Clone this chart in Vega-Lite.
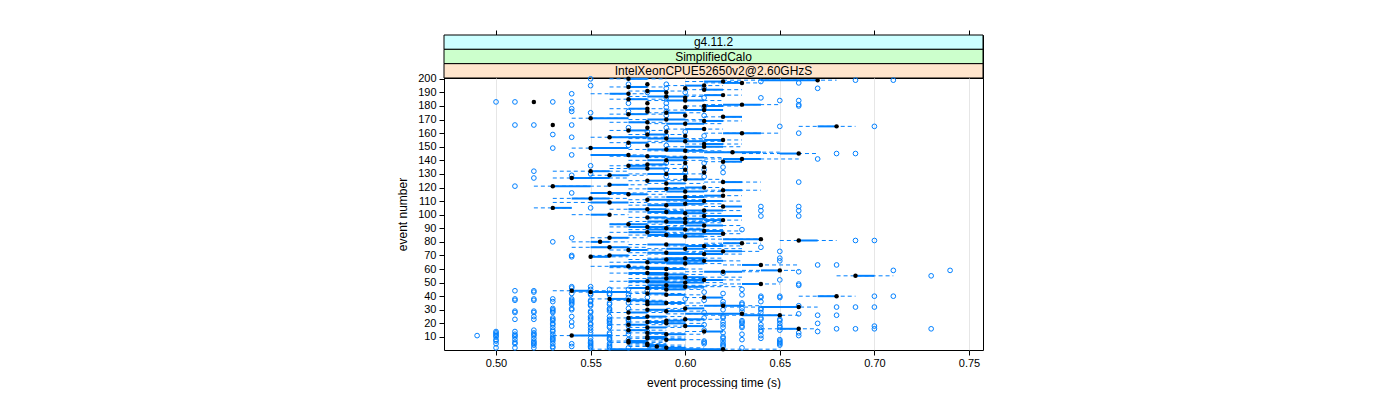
{
"$schema": "https://vega.github.io/schema/vega-lite/v6.json",
"padding": {"left": 396, "top": 29, "right": 0, "bottom": 0},
"background": "white",
"spacing": 0,
"bounds": "flush",
"config": {"font": "Liberation Sans", "view": {"stroke": "black", "strokeWidth": 1}, "axis": {"labelOverlap": false, "labelFlush": false}, "axisY": {"labelOverlap": false}},
"datasets": {
"strips": [{"label": "g4.11.2"}, {"label": "SimplifiedCalo"}, {"label": "IntelXeonCPUE52650v2@2.60GHzS"}],
"ev": [
{"e":1,"lo":0.55,"q1":0.56,"m":0.62,"q3":0.62,"hi":0.65},
{"e":2,"lo":0.58,"q1":0.59,"m":0.59,"q3":0.60,"hi":0.61},
{"e":3,"lo":0.57,"q1":0.58,"m":0.585,"q3":0.59,"hi":0.60},
{"e":4,"lo":0.57,"q1":0.58,"m":0.58,"q3":0.59,"hi":0.60},
{"e":5,"lo":0.57,"q1":0.58,"m":0.58,"q3":0.58,"hi":0.59},
{"e":6,"lo":0.56,"q1":0.57,"m":0.57,"q3":0.58,"hi":0.59},
{"e":7,"lo":0.56,"q1":0.57,"m":0.57,"q3":0.58,"hi":0.59},
{"e":8,"lo":0.58,"q1":0.59,"m":0.59,"q3":0.60,"hi":0.61},
{"e":9,"lo":0.57,"q1":0.58,"m":0.58,"q3":0.59,"hi":0.60},
{"e":10,"lo":0.57,"q1":0.58,"m":0.58,"q3":0.59,"hi":0.60},
{"e":11,"lo":0.53,"q1":0.54,"m":0.54,"q3":0.56,"hi":0.57},
{"e":12,"lo":0.58,"q1":0.59,"m":0.59,"q3":0.60,"hi":0.61},
{"e":13,"lo":0.57,"q1":0.58,"m":0.58,"q3":0.59,"hi":0.60},
{"e":14,"lo":0.60,"q1":0.61,"m":0.61,"q3":0.62,"hi":0.62},
{"e":15,"lo":0.56,"q1":0.57,"m":0.57,"q3":0.58,"hi":0.59},
{"e":16,"lo":0.64,"q1":0.65,"m":0.66,"q3":0.66,"hi":0.67},
{"e":17,"lo":0.57,"q1":0.58,"m":0.58,"q3":0.59,"hi":0.60},
{"e":18,"lo":0.59,"q1":0.60,"m":0.60,"q3":0.61,"hi":0.61},
{"e":19,"lo":0.56,"q1":0.57,"m":0.57,"q3":0.58,"hi":0.59},
{"e":20,"lo":0.58,"q1":0.59,"m":0.59,"q3":0.60,"hi":0.61},
{"e":21,"lo":0.57,"q1":0.58,"m":0.58,"q3":0.59,"hi":0.60},
{"e":22,"lo":0.58,"q1":0.59,"m":0.59,"q3":0.60,"hi":0.61},
{"e":23,"lo":0.59,"q1":0.60,"m":0.60,"q3":0.61,"hi":0.62},
{"e":24,"lo":0.56,"q1":0.57,"m":0.57,"q3":0.58,"hi":0.59},
{"e":25,"lo":0.57,"q1":0.58,"m":0.58,"q3":0.59,"hi":0.60},
{"e":26,"lo":0.61,"q1":0.63,"m":0.65,"q3":0.65,"hi":0.66},
{"e":27,"lo":0.59,"q1":0.60,"m":0.63,"q3":0.63,"hi":0.64},
{"e":28,"lo":0.56,"q1":0.57,"m":0.57,"q3":0.58,"hi":0.59},
{"e":29,"lo":0.58,"q1":0.59,"m":0.59,"q3":0.60,"hi":0.61},
{"e":30,"lo":0.57,"q1":0.58,"m":0.58,"q3":0.59,"hi":0.60},
{"e":31,"lo":0.59,"q1":0.60,"m":0.60,"q3":0.61,"hi":0.61},
{"e":32,"lo":0.62,"q1":0.64,"m":0.66,"q3":0.66,"hi":0.67},
{"e":33,"lo":0.60,"q1":0.61,"m":0.62,"q3":0.63,"hi":0.64},
{"e":34,"lo":0.57,"q1":0.58,"m":0.58,"q3":0.59,"hi":0.60},
{"e":35,"lo":0.58,"q1":0.59,"m":0.59,"q3":0.60,"hi":0.61},
{"e":36,"lo":0.57,"q1":0.58,"m":0.58,"q3":0.59,"hi":0.60},
{"e":37,"lo":0.56,"q1":0.57,"m":0.57,"q3":0.58,"hi":0.59},
{"e":38,"lo":0.55,"q1":0.56,"m":0.56,"q3":0.57,"hi":0.58},
{"e":39,"lo":0.60,"q1":0.61,"m":0.61,"q3":0.62,"hi":0.62},
{"e":40,"lo":0.66,"q1":0.67,"m":0.68,"q3":0.68,"hi":0.69},
{"e":41,"lo":0.58,"q1":0.59,"m":0.59,"q3":0.60,"hi":0.61},
{"e":42,"lo":0.57,"q1":0.58,"m":0.58,"q3":0.59,"hi":0.60},
{"e":43,"lo":0.54,"q1":0.55,"m":0.55,"q3":0.57,"hi":0.58},
{"e":44,"lo":0.53,"q1":0.54,"m":0.54,"q3":0.55,"hi":0.56},
{"e":45,"lo":0.58,"q1":0.59,"m":0.59,"q3":0.60,"hi":0.61},
{"e":46,"lo":0.56,"q1":0.57,"m":0.58,"q3":0.59,"hi":0.61},
{"e":47,"lo":0.58,"q1":0.59,"m":0.60,"q3":0.61,"hi":0.63},
{"e":48,"lo":0.57,"q1":0.58,"m":0.59,"q3":0.60,"hi":0.62},
{"e":49,"lo":0.62,"q1":0.63,"m":0.64,"q3":0.64,"hi":0.65},
{"e":50,"lo":0.57,"q1":0.58,"m":0.60,"q3":0.61,"hi":0.62},
{"e":51,"lo":0.56,"q1":0.57,"m":0.58,"q3":0.59,"hi":0.61},
{"e":52,"lo":0.59,"q1":0.60,"m":0.61,"q3":0.62,"hi":0.63},
{"e":53,"lo":0.57,"q1":0.58,"m":0.59,"q3":0.60,"hi":0.61},
{"e":54,"lo":0.58,"q1":0.59,"m":0.60,"q3":0.61,"hi":0.63},
{"e":55,"lo":0.68,"q1":0.69,"m":0.69,"q3":0.70,"hi":0.71},
{"e":56,"lo":0.57,"q1":0.58,"m":0.59,"q3":0.60,"hi":0.61},
{"e":57,"lo":0.56,"q1":0.57,"m":0.58,"q3":0.59,"hi":0.60},
{"e":58,"lo":0.60,"q1":0.61,"m":0.62,"q3":0.63,"hi":0.64},
{"e":59,"lo":0.63,"q1":0.64,"m":0.65,"q3":0.65,"hi":0.66},
{"e":60,"lo":0.57,"q1":0.58,"m":0.59,"q3":0.60,"hi":0.61},
{"e":61,"lo":0.56,"q1":0.57,"m":0.58,"q3":0.59,"hi":0.60},
{"e":62,"lo":0.55,"q1":0.56,"m":0.57,"q3":0.57,"hi":0.58},
{"e":63,"lo":0.62,"q1":0.63,"m":0.64,"q3":0.64,"hi":0.66},
{"e":64,"lo":0.58,"q1":0.59,"m":0.60,"q3":0.61,"hi":0.62},
{"e":65,"lo":0.56,"q1":0.57,"m":0.58,"q3":0.60,"hi":0.61},
{"e":66,"lo":0.59,"q1":0.60,"m":0.61,"q3":0.62,"hi":0.63},
{"e":67,"lo":0.57,"q1":0.58,"m":0.59,"q3":0.60,"hi":0.61},
{"e":68,"lo":0.58,"q1":0.59,"m":0.60,"q3":0.61,"hi":0.62},
{"e":69,"lo":0.55,"q1":0.55,"m":0.55,"q3":0.56,"hi":0.57},
{"e":70,"lo":0.55,"q1":0.56,"m":0.56,"q3":0.57,"hi":0.58},
{"e":71,"lo":0.58,"q1":0.59,"m":0.61,"q3":0.62,"hi":0.63},
{"e":72,"lo":0.57,"q1":0.58,"m":0.59,"q3":0.60,"hi":0.61},
{"e":73,"lo":0.60,"q1":0.61,"m":0.62,"q3":0.63,"hi":0.64},
{"e":74,"lo":0.56,"q1":0.57,"m":0.57,"q3":0.58,"hi":0.59},
{"e":75,"lo":0.58,"q1":0.59,"m":0.60,"q3":0.61,"hi":0.63},
{"e":76,"lo":0.54,"q1":0.55,"m":0.56,"q3":0.57,"hi":0.58},
{"e":77,"lo":0.59,"q1":0.60,"m":0.61,"q3":0.62,"hi":0.63},
{"e":78,"lo":0.57,"q1":0.58,"m":0.59,"q3":0.60,"hi":0.62},
{"e":79,"lo":0.61,"q1":0.62,"m":0.63,"q3":0.63,"hi":0.64},
{"e":80,"lo":0.54,"q1":0.55,"m":0.555,"q3":0.56,"hi":0.57},
{"e":81,"lo":0.65,"q1":0.66,"m":0.66,"q3":0.67,"hi":0.68},
{"e":82,"lo":0.61,"q1":0.62,"m":0.64,"q3":0.64,"hi":0.64},
{"e":83,"lo":0.55,"q1":0.56,"m":0.56,"q3":0.57,"hi":0.58},
{"e":84,"lo":0.58,"q1":0.59,"m":0.60,"q3":0.61,"hi":0.62},
{"e":85,"lo":0.57,"q1":0.58,"m":0.59,"q3":0.60,"hi":0.61},
{"e":86,"lo":0.59,"q1":0.60,"m":0.62,"q3":0.62,"hi":0.63},
{"e":87,"lo":0.56,"q1":0.57,"m":0.58,"q3":0.59,"hi":0.60},
{"e":88,"lo":0.60,"q1":0.61,"m":0.61,"q3":0.62,"hi":0.63},
{"e":89,"lo":0.57,"q1":0.58,"m":0.60,"q3":0.61,"hi":0.62},
{"e":90,"lo":0.58,"q1":0.59,"m":0.59,"q3":0.60,"hi":0.61},
{"e":91,"lo":0.56,"q1":0.57,"m":0.58,"q3":0.59,"hi":0.60},
{"e":92,"lo":0.59,"q1":0.60,"m":0.61,"q3":0.62,"hi":0.63},
{"e":93,"lo":0.56,"q1":0.56,"m":0.57,"q3":0.58,"hi":0.59},
{"e":94,"lo":0.58,"q1":0.59,"m":0.60,"q3":0.61,"hi":0.62},
{"e":95,"lo":0.57,"q1":0.58,"m":0.59,"q3":0.60,"hi":0.62},
{"e":96,"lo":0.60,"q1":0.61,"m":0.62,"q3":0.62,"hi":0.63},
{"e":97,"lo":0.58,"q1":0.59,"m":0.60,"q3":0.61,"hi":0.62},
{"e":98,"lo":0.57,"q1":0.58,"m":0.58,"q3":0.59,"hi":0.60},
{"e":99,"lo":0.60,"q1":0.61,"m":0.61,"q3":0.63,"hi":0.63},
{"e":100,"lo":0.54,"q1":0.55,"m":0.56,"q3":0.56,"hi":0.57},
{"e":101,"lo":0.58,"q1":0.59,"m":0.60,"q3":0.61,"hi":0.62},
{"e":102,"lo":0.57,"q1":0.58,"m":0.59,"q3":0.60,"hi":0.61},
{"e":103,"lo":0.59,"q1":0.60,"m":0.61,"q3":0.62,"hi":0.63},
{"e":104,"lo":0.56,"q1":0.57,"m":0.58,"q3":0.59,"hi":0.60},
{"e":105,"lo":0.52,"q1":0.53,"m":0.53,"q3":0.54,"hi":0.54},
{"e":106,"lo":0.61,"q1":0.62,"m":0.62,"q3":0.63,"hi":0.63},
{"e":107,"lo":0.57,"q1":0.58,"m":0.59,"q3":0.60,"hi":0.61},
{"e":108,"lo":0.58,"q1":0.59,"m":0.60,"q3":0.61,"hi":0.62},
{"e":109,"lo":0.53,"q1":0.55,"m":0.56,"q3":0.57,"hi":0.58},
{"e":110,"lo":0.59,"q1":0.60,"m":0.61,"q3":0.62,"hi":0.63},
{"e":111,"lo":0.57,"q1":0.58,"m":0.58,"q3":0.60,"hi":0.61},
{"e":112,"lo":0.53,"q1":0.54,"m":0.55,"q3":0.56,"hi":0.57},
{"e":113,"lo":0.58,"q1":0.59,"m":0.60,"q3":0.61,"hi":0.62},
{"e":114,"lo":0.60,"q1":0.61,"m":0.62,"q3":0.62,"hi":0.63},
{"e":115,"lo":0.56,"q1":0.57,"m":0.57,"q3":0.58,"hi":0.59},
{"e":116,"lo":0.55,"q1":0.55,"m":0.56,"q3":0.57,"hi":0.58},
{"e":117,"lo":0.58,"q1":0.59,"m":0.60,"q3":0.61,"hi":0.62},
{"e":118,"lo":0.61,"q1":0.62,"m":0.62,"q3":0.63,"hi":0.64},
{"e":119,"lo":0.57,"q1":0.58,"m":0.59,"q3":0.60,"hi":0.61},
{"e":120,"lo":0.59,"q1":0.60,"m":0.61,"q3":0.61,"hi":0.62},
{"e":121,"lo":0.52,"q1":0.53,"m":0.53,"q3":0.55,"hi":0.56},
{"e":122,"lo":0.56,"q1":0.56,"m":0.56,"q3":0.57,"hi":0.58},
{"e":123,"lo":0.58,"q1":0.59,"m":0.59,"q3":0.60,"hi":0.61},
{"e":124,"lo":0.61,"q1":0.62,"m":0.62,"q3":0.63,"hi":0.64},
{"e":125,"lo":0.57,"q1":0.58,"m":0.58,"q3":0.59,"hi":0.60},
{"e":126,"lo":0.59,"q1":0.60,"m":0.60,"q3":0.61,"hi":0.62},
{"e":127,"lo":0.53,"q1":0.54,"m":0.54,"q3":0.56,"hi":0.57},
{"e":128,"lo":0.60,"q1":0.60,"m":0.60,"q3":0.60,"hi":0.60},
{"e":129,"lo":0.55,"q1":0.56,"m":0.56,"q3":0.57,"hi":0.58},
{"e":130,"lo":0.57,"q1":0.58,"m":0.59,"q3":0.60,"hi":0.61},
{"e":131,"lo":0.61,"q1":0.61,"m":0.61,"q3":0.61,"hi":0.61},
{"e":132,"lo":0.53,"q1":0.55,"m":0.55,"q3":0.56,"hi":0.57},
{"e":133,"lo":0.60,"q1":0.60,"m":0.60,"q3":0.60,"hi":0.60},
{"e":134,"lo":0.56,"q1":0.57,"m":0.58,"q3":0.59,"hi":0.60},
{"e":135,"lo":0.61,"q1":0.61,"m":0.61,"q3":0.61,"hi":0.61},
{"e":136,"lo":0.56,"q1":0.57,"m":0.57,"q3":0.58,"hi":0.59},
{"e":137,"lo":0.57,"q1":0.58,"m":0.58,"q3":0.59,"hi":0.60},
{"e":138,"lo":0.60,"q1":0.60,"m":0.60,"q3":0.60,"hi":0.60},
{"e":139,"lo":0.61,"q1":0.62,"m":0.62,"q3":0.63,"hi":0.63},
{"e":140,"lo":0.57,"q1":0.58,"m":0.59,"q3":0.60,"hi":0.61},
{"e":141,"lo":0.61,"q1":0.62,"m":0.63,"q3":0.64,"hi":0.66},
{"e":142,"lo":0.58,"q1":0.59,"m":0.60,"q3":0.61,"hi":0.62},
{"e":143,"lo":0.56,"q1":0.57,"m":0.58,"q3":0.59,"hi":0.60},
{"e":144,"lo":0.55,"q1":0.55,"m":0.57,"q3":0.57,"hi":0.58},
{"e":145,"lo":0.63,"q1":0.65,"m":0.66,"q3":0.66,"hi":0.67},
{"e":146,"lo":0.60,"q1":0.61,"m":0.625,"q3":0.64,"hi":0.65},
{"e":147,"lo":0.58,"q1":0.59,"m":0.60,"q3":0.61,"hi":0.62},
{"e":148,"lo":0.57,"q1":0.58,"m":0.59,"q3":0.60,"hi":0.61},
{"e":149,"lo":0.54,"q1":0.55,"m":0.55,"q3":0.57,"hi":0.57},
{"e":150,"lo":0.59,"q1":0.60,"m":0.61,"q3":0.62,"hi":0.63},
{"e":151,"lo":0.58,"q1":0.58,"m":0.58,"q3":0.58,"hi":0.58},
{"e":152,"lo":0.60,"q1":0.61,"m":0.61,"q3":0.62,"hi":0.63},
{"e":153,"lo":0.56,"q1":0.57,"m":0.57,"q3":0.58,"hi":0.59},
{"e":154,"lo":0.58,"q1":0.59,"m":0.60,"q3":0.61,"hi":0.62},
{"e":155,"lo":0.60,"q1":0.61,"m":0.62,"q3":0.62,"hi":0.63},
{"e":156,"lo":0.57,"q1":0.58,"m":0.59,"q3":0.60,"hi":0.61},
{"e":157,"lo":0.55,"q1":0.56,"m":0.56,"q3":0.58,"hi":0.59},
{"e":158,"lo":0.60,"q1":0.60,"m":0.60,"q3":0.60,"hi":0.60},
{"e":159,"lo":0.57,"q1":0.58,"m":0.58,"q3":0.59,"hi":0.60},
{"e":160,"lo":0.61,"q1":0.62,"m":0.63,"q3":0.64,"hi":0.65},
{"e":161,"lo":0.59,"q1":0.59,"m":0.59,"q3":0.59,"hi":0.59},
{"e":162,"lo":0.56,"q1":0.57,"m":0.57,"q3":0.58,"hi":0.59},
{"e":163,"lo":0.59,"q1":0.60,"m":0.61,"q3":0.61,"hi":0.62},
{"e":164,"lo":0.58,"q1":0.58,"m":0.58,"q3":0.58,"hi":0.58},
{"e":165,"lo":0.66,"q1":0.67,"m":0.68,"q3":0.68,"hi":0.69},
{"e":166,"lo":0.53,"q1":0.53,"m":0.53,"q3":0.53,"hi":0.53},
{"e":167,"lo":0.58,"q1":0.59,"m":0.60,"q3":0.61,"hi":0.62},
{"e":168,"lo":0.56,"q1":0.57,"m":0.58,"q3":0.58,"hi":0.59},
{"e":169,"lo":0.60,"q1":0.61,"m":0.61,"q3":0.62,"hi":0.63},
{"e":170,"lo":0.57,"q1":0.58,"m":0.59,"q3":0.60,"hi":0.61},
{"e":171,"lo":0.54,"q1":0.55,"m":0.55,"q3":0.57,"hi":0.57},
{"e":172,"lo":0.61,"q1":0.62,"m":0.62,"q3":0.63,"hi":0.63},
{"e":173,"lo":0.60,"q1":0.60,"m":0.60,"q3":0.60,"hi":0.60},
{"e":174,"lo":0.56,"q1":0.57,"m":0.57,"q3":0.58,"hi":0.59},
{"e":175,"lo":0.58,"q1":0.59,"m":0.59,"q3":0.60,"hi":0.61},
{"e":176,"lo":0.58,"q1":0.58,"m":0.58,"q3":0.58,"hi":0.58},
{"e":177,"lo":0.59,"q1":0.60,"m":0.61,"q3":0.62,"hi":0.62},
{"e":178,"lo":0.56,"q1":0.57,"m":0.58,"q3":0.58,"hi":0.59},
{"e":179,"lo":0.60,"q1":0.60,"m":0.60,"q3":0.60,"hi":0.60},
{"e":180,"lo":0.60,"q1":0.61,"m":0.61,"q3":0.62,"hi":0.63},
{"e":181,"lo":0.61,"q1":0.62,"m":0.63,"q3":0.64,"hi":0.65},
{"e":182,"lo":0.58,"q1":0.58,"m":0.58,"q3":0.58,"hi":0.58},
{"e":183,"lo":0.52,"q1":0.52,"m":0.52,"q3":0.52,"hi":0.52},
{"e":184,"lo":0.58,"q1":0.59,"m":0.60,"q3":0.61,"hi":0.62},
{"e":185,"lo":0.56,"q1":0.57,"m":0.57,"q3":0.58,"hi":0.59},
{"e":186,"lo":0.60,"q1":0.60,"m":0.60,"q3":0.60,"hi":0.60},
{"e":187,"lo":0.57,"q1":0.58,"m":0.59,"q3":0.60,"hi":0.61},
{"e":188,"lo":0.60,"q1":0.61,"m":0.62,"q3":0.62,"hi":0.63},
{"e":189,"lo":0.55,"q1":0.56,"m":0.57,"q3":0.57,"hi":0.58},
{"e":190,"lo":0.59,"q1":0.59,"m":0.59,"q3":0.59,"hi":0.59},
{"e":191,"lo":0.57,"q1":0.58,"m":0.58,"q3":0.59,"hi":0.60},
{"e":192,"lo":0.60,"q1":0.61,"m":0.61,"q3":0.62,"hi":0.63},
{"e":193,"lo":0.60,"q1":0.60,"m":0.60,"q3":0.60,"hi":0.60},
{"e":194,"lo":0.56,"q1":0.57,"m":0.57,"q3":0.58,"hi":0.59},
{"e":195,"lo":0.59,"q1":0.60,"m":0.61,"q3":0.61,"hi":0.62},
{"e":196,"lo":0.58,"q1":0.58,"m":0.58,"q3":0.58,"hi":0.58},
{"e":197,"lo":0.61,"q1":0.62,"m":0.63,"q3":0.63,"hi":0.64},
{"e":198,"lo":0.60,"q1":0.61,"m":0.62,"q3":0.62,"hi":0.63},
{"e":199,"lo":0.62,"q1":0.64,"m":0.67,"q3":0.67,"hi":0.68},
{"e":200,"lo":0.56,"q1":0.57,"m":0.57,"q3":0.58,"hi":0.59}
],
"out": [
{"e":2,"v":0.50},{"e":2,"v":0.51},{"e":2,"v":0.52},{"e":2,"v":0.53},{"e":2,"v":0.55},{"e":2,"v":0.56},{"e":2,"v":0.57},{"e":2,"v":0.63},
{"e":3,"v":0.53},{"e":3,"v":0.54},{"e":3,"v":0.55},{"e":3,"v":0.56},{"e":3,"v":0.62},
{"e":4,"v":0.52},{"e":4,"v":0.55},{"e":4,"v":0.56},{"e":4,"v":0.62},{"e":4,"v":0.65},
{"e":5,"v":0.50},{"e":5,"v":0.51},{"e":5,"v":0.52},{"e":5,"v":0.53},{"e":5,"v":0.54},{"e":5,"v":0.55},{"e":5,"v":0.56},{"e":5,"v":0.61},{"e":5,"v":0.62},{"e":5,"v":0.65},
{"e":6,"v":0.51},{"e":6,"v":0.52},{"e":6,"v":0.55},{"e":6,"v":0.61},{"e":6,"v":0.65},
{"e":7,"v":0.50},{"e":7,"v":0.52},{"e":7,"v":0.53},{"e":7,"v":0.55},{"e":7,"v":0.61},{"e":7,"v":0.62},{"e":7,"v":0.65},
{"e":8,"v":0.50},{"e":8,"v":0.51},{"e":8,"v":0.53},{"e":8,"v":0.56},{"e":8,"v":0.57},{"e":8,"v":0.63},{"e":8,"v":0.65},
{"e":9,"v":0.52},{"e":9,"v":0.53},{"e":9,"v":0.55},{"e":9,"v":0.56},{"e":9,"v":0.62},{"e":9,"v":0.64},
{"e":10,"v":0.50},{"e":10,"v":0.51},{"e":10,"v":0.53},{"e":10,"v":0.56},{"e":10,"v":0.62},
{"e":11,"v":0.49},{"e":11,"v":0.50},{"e":11,"v":0.51},{"e":11,"v":0.52},{"e":11,"v":0.64},{"e":11,"v":0.66},
{"e":12,"v":0.50},{"e":12,"v":0.51},{"e":12,"v":0.52},{"e":12,"v":0.53},{"e":12,"v":0.56},{"e":12,"v":0.57},{"e":12,"v":0.63},
{"e":13,"v":0.50},{"e":13,"v":0.52},{"e":13,"v":0.55},{"e":13,"v":0.56},{"e":13,"v":0.62},{"e":13,"v":0.66},
{"e":14,"v":0.50},{"e":14,"v":0.51},{"e":14,"v":0.53},{"e":14,"v":0.57},{"e":14,"v":0.58},{"e":14,"v":0.64},{"e":14,"v":0.67},
{"e":15,"v":0.52},{"e":15,"v":0.53},{"e":15,"v":0.55},{"e":15,"v":0.61},{"e":15,"v":0.64},{"e":15,"v":0.65},
{"e":16,"v":0.68},{"e":16,"v":0.69},{"e":16,"v":0.70},{"e":16,"v":0.73},
{"e":17,"v":0.53},{"e":17,"v":0.55},{"e":17,"v":0.56},{"e":17,"v":0.62},{"e":17,"v":0.63},{"e":17,"v":0.64},{"e":17,"v":0.65},
{"e":18,"v":0.54},{"e":18,"v":0.56},{"e":18,"v":0.57},{"e":18,"v":0.63},{"e":18,"v":0.65},{"e":18,"v":0.70},
{"e":19,"v":0.53},{"e":19,"v":0.55},{"e":19,"v":0.61},{"e":19,"v":0.62},{"e":19,"v":0.64},
{"e":20,"v":0.53},{"e":20,"v":0.55},{"e":20,"v":0.56},{"e":20,"v":0.57},{"e":20,"v":0.63},{"e":20,"v":0.65},{"e":20,"v":0.67},
{"e":21,"v":0.54},{"e":21,"v":0.56},{"e":21,"v":0.62},{"e":21,"v":0.63},
{"e":22,"v":0.53},{"e":22,"v":0.56},{"e":22,"v":0.57},{"e":22,"v":0.63},{"e":22,"v":0.65},
{"e":23,"v":0.51},{"e":23,"v":0.52},{"e":23,"v":0.53},{"e":23,"v":0.55},{"e":23,"v":0.56},{"e":23,"v":0.57},{"e":23,"v":0.64},{"e":23,"v":0.65},
{"e":24,"v":0.53},{"e":24,"v":0.55},{"e":24,"v":0.61},{"e":24,"v":0.62},{"e":24,"v":0.64},
{"e":25,"v":0.52},{"e":25,"v":0.54},{"e":25,"v":0.55},{"e":25,"v":0.56},{"e":25,"v":0.62},
{"e":26,"v":0.67},{"e":26,"v":0.68},
{"e":27,"v":0.66},
{"e":28,"v":0.51},{"e":28,"v":0.52},{"e":28,"v":0.53},{"e":28,"v":0.55},{"e":28,"v":0.61},{"e":28,"v":0.64},
{"e":29,"v":0.51},{"e":29,"v":0.52},{"e":29,"v":0.53},{"e":29,"v":0.55},{"e":29,"v":0.56},{"e":29,"v":0.63},
{"e":30,"v":0.53},{"e":30,"v":0.54},{"e":30,"v":0.56},{"e":30,"v":0.62},{"e":30,"v":0.64},
{"e":31,"v":0.53},{"e":31,"v":0.54},{"e":31,"v":0.56},{"e":31,"v":0.57},{"e":31,"v":0.63},{"e":31,"v":0.64},
{"e":32,"v":0.68},{"e":32,"v":0.69},{"e":32,"v":0.70},
{"e":33,"v":0.55},{"e":33,"v":0.66},
{"e":34,"v":0.54},{"e":34,"v":0.55},{"e":34,"v":0.56},{"e":34,"v":0.62},{"e":34,"v":0.63},
{"e":35,"v":0.54},{"e":35,"v":0.56},{"e":35,"v":0.57},{"e":35,"v":0.63},
{"e":36,"v":0.53},{"e":36,"v":0.54},{"e":36,"v":0.55},{"e":36,"v":0.62},{"e":36,"v":0.64},
{"e":37,"v":0.51},{"e":37,"v":0.52},{"e":37,"v":0.54},{"e":37,"v":0.55},{"e":37,"v":0.61},
{"e":38,"v":0.51},{"e":38,"v":0.52},{"e":38,"v":0.53},{"e":38,"v":0.54},{"e":38,"v":0.60},
{"e":39,"v":0.57},{"e":39,"v":0.58},{"e":39,"v":0.64},{"e":39,"v":0.65},
{"e":40,"v":0.64},{"e":40,"v":0.65},{"e":40,"v":0.70},{"e":40,"v":0.71},
{"e":41,"v":0.55},{"e":41,"v":0.56},{"e":41,"v":0.57},{"e":41,"v":0.63},
{"e":42,"v":0.54},{"e":42,"v":0.55},{"e":42,"v":0.56},{"e":42,"v":0.62},
{"e":43,"v":0.52},{"e":43,"v":0.61},
{"e":44,"v":0.51},{"e":44,"v":0.52},{"e":44,"v":0.58},
{"e":45,"v":0.55},{"e":45,"v":0.56},{"e":45,"v":0.57},{"e":45,"v":0.63},
{"e":46,"v":0.54},{"e":47,"v":0.54},{"e":47,"v":0.55},
{"e":48,"v":0.66},{"e":49,"v":0.66},{"e":52,"v":0.65},{"e":55,"v":0.73},
{"e":57,"v":0.62},{"e":58,"v":0.66},{"e":59,"v":0.71},{"e":59,"v":0.74},
{"e":63,"v":0.67},{"e":63,"v":0.68},{"e":66,"v":0.65},{"e":68,"v":0.65},
{"e":69,"v":0.54},{"e":70,"v":0.54},{"e":73,"v":0.65},{"e":76,"v":0.64},
{"e":80,"v":0.53},{"e":81,"v":0.69},{"e":81,"v":0.70},{"e":83,"v":0.54},{"e":89,"v":0.63},
{"e":99,"v":0.64},{"e":99,"v":0.66},{"e":103,"v":0.64},{"e":103,"v":0.66},
{"e":105,"v":0.55},{"e":106,"v":0.64},{"e":106,"v":0.66},{"e":116,"v":0.54},
{"e":121,"v":0.51},{"e":124,"v":0.66},{"e":127,"v":0.52},
{"e":128,"v":0.59},{"e":128,"v":0.61},{"e":129,"v":0.54},
{"e":130,"v":0.55},{"e":131,"v":0.60},{"e":131,"v":0.62},{"e":132,"v":0.52},
{"e":133,"v":0.59},{"e":133,"v":0.61},{"e":135,"v":0.60},{"e":135,"v":0.62},
{"e":136,"v":0.55},{"e":138,"v":0.59},{"e":138,"v":0.61},{"e":141,"v":0.67},
{"e":144,"v":0.54},{"e":145,"v":0.68},{"e":145,"v":0.69},{"e":149,"v":0.53},
{"e":151,"v":0.57},{"e":151,"v":0.59},
{"e":157,"v":0.54},{"e":158,"v":0.59},{"e":158,"v":0.61},{"e":159,"v":0.53},{"e":160,"v":0.66},
{"e":161,"v":0.58},{"e":161,"v":0.60},{"e":164,"v":0.57},{"e":164,"v":0.59},
{"e":165,"v":0.65},{"e":165,"v":0.70},
{"e":166,"v":0.51},{"e":166,"v":0.52},{"e":166,"v":0.54},
{"e":173,"v":0.59},{"e":173,"v":0.61},
{"e":175,"v":0.55},{"e":176,"v":0.54},{"e":176,"v":0.57},{"e":176,"v":0.59},{"e":178,"v":0.54},
{"e":179,"v":0.59},{"e":179,"v":0.61},{"e":180,"v":0.66},{"e":181,"v":0.66},
{"e":182,"v":0.57},{"e":182,"v":0.59},
{"e":183,"v":0.50},{"e":183,"v":0.51},{"e":183,"v":0.53},{"e":183,"v":0.54},
{"e":184,"v":0.65},{"e":184,"v":0.66},{"e":186,"v":0.59},{"e":186,"v":0.61},{"e":186,"v":0.64},{"e":189,"v":0.54},
{"e":190,"v":0.58},{"e":190,"v":0.60},
{"e":193,"v":0.59},{"e":193,"v":0.61},{"e":193,"v":0.67},
{"e":195,"v":0.55},{"e":196,"v":0.57},{"e":196,"v":0.59},{"e":197,"v":0.66},{"e":198,"v":0.64},{"e":199,"v":0.69},{"e":199,"v":0.71},{"e":200,"v":0.55}
]
},
"vconcat": [
{
"width": 539, "height": 43,
"data": {"name": "strips"},
"layer": [
{"mark": {"type": "rect", "stroke": "black", "strokeWidth": 1},
 "encoding": {
  "x": {"datum": 0.4725, "type": "quantitative", "scale": {"domain": [0.4725, 0.7574], "nice": false, "zero": false},
        "axis": {"orient": "top", "values": [0.5, 0.55, 0.6, 0.65, 0.7, 0.75], "labels": false, "ticks": true, "tickSize": 5, "tickColor": "black", "domain": false, "grid": false, "title": null}},
  "x2": {"datum": 0.7574},
  "y": {"field": "label", "type": "nominal", "sort": ["g4.11.2", "SimplifiedCalo", "IntelXeonCPUE52650v2@2.60GHzS"], "scale": {"paddingInner": 0, "paddingOuter": 0}, "axis": null},
  "fill": {"field": "label", "type": "nominal", "scale": {"domain": ["g4.11.2", "SimplifiedCalo", "IntelXeonCPUE52650v2@2.60GHzS"], "range": ["#ccffff", "#ccffcc", "#ffe5cc"]}, "legend": null}
 }},
{"mark": {"type": "text", "fontSize": 12, "color": "black", "align": "center", "baseline": "middle"},
 "encoding": {
  "x": {"datum": 0.61495, "type": "quantitative"},
  "y": {"field": "label", "type": "nominal", "sort": ["g4.11.2", "SimplifiedCalo", "IntelXeonCPUE52650v2@2.60GHzS"]},
  "text": {"field": "label", "type": "nominal"}
 }}
]
},
{
"width": 539, "height": 272,
"encoding": {
  "y": {"field": "e", "type": "quantitative", "scale": {"domain": [0.4, 200.6], "nice": false, "zero": false},
        "axis": {"values": [10, 20, 30, 40, 50, 60, 70, 80, 90, 100, 110, 120, 130, 140, 150, 160, 170, 180, 190, 200], "labelFontSize": 11, "labelColor": "black", "tickColor": "black", "tickSize": 5, "labelPadding": 3, "labelOverlap": false, "labelFlush": false, "labelBound": false, "domain": false, "grid": false, "title": "event number", "titleFontSize": 12, "titleFontWeight": "normal", "titleColor": "black", "titlePadding": 8}}
},
"layer": [
{"data": {"name": "ev"},
 "mark": {"type": "rule", "color": "#0080ff", "strokeWidth": 1, "strokeDash": [4, 3]},
 "encoding": {
  "x": {"field": "lo", "type": "quantitative", "scale": {"domain": [0.4725, 0.7574], "nice": false, "zero": false},
        "axis": {"values": [0.5, 0.55, 0.6, 0.65, 0.7, 0.75], "format": ".2f", "labelFontSize": 11, "labelColor": "black", "tickColor": "black", "tickSize": 5, "labelPadding": 2, "domain": false, "grid": true, "gridColor": "#e6e6e6", "title": "event processing time (s)", "titleFontSize": 12, "titleFontWeight": "normal", "titleColor": "black", "titlePadding": 9}},
  "x2": {"field": "hi"}
 }},
{"data": {"name": "ev"},
 "mark": {"type": "rule", "color": "#0080ff", "strokeWidth": 2},
 "encoding": {
  "x": {"field": "q1", "type": "quantitative"},
  "x2": {"field": "q3"}
 }},
{"data": {"name": "out"},
 "mark": {"type": "point", "shape": "circle", "filled": false, "color": "#0080ff", "size": 22, "strokeWidth": 1, "opacity": 1},
 "encoding": {
  "x": {"field": "v", "type": "quantitative"}
 }},
{"data": {"name": "ev"},
 "mark": {"type": "point", "shape": "circle", "filled": true, "color": "black", "size": 20, "opacity": 1},
 "encoding": {
  "x": {"field": "m", "type": "quantitative"}
 }}
]
}
]
}
